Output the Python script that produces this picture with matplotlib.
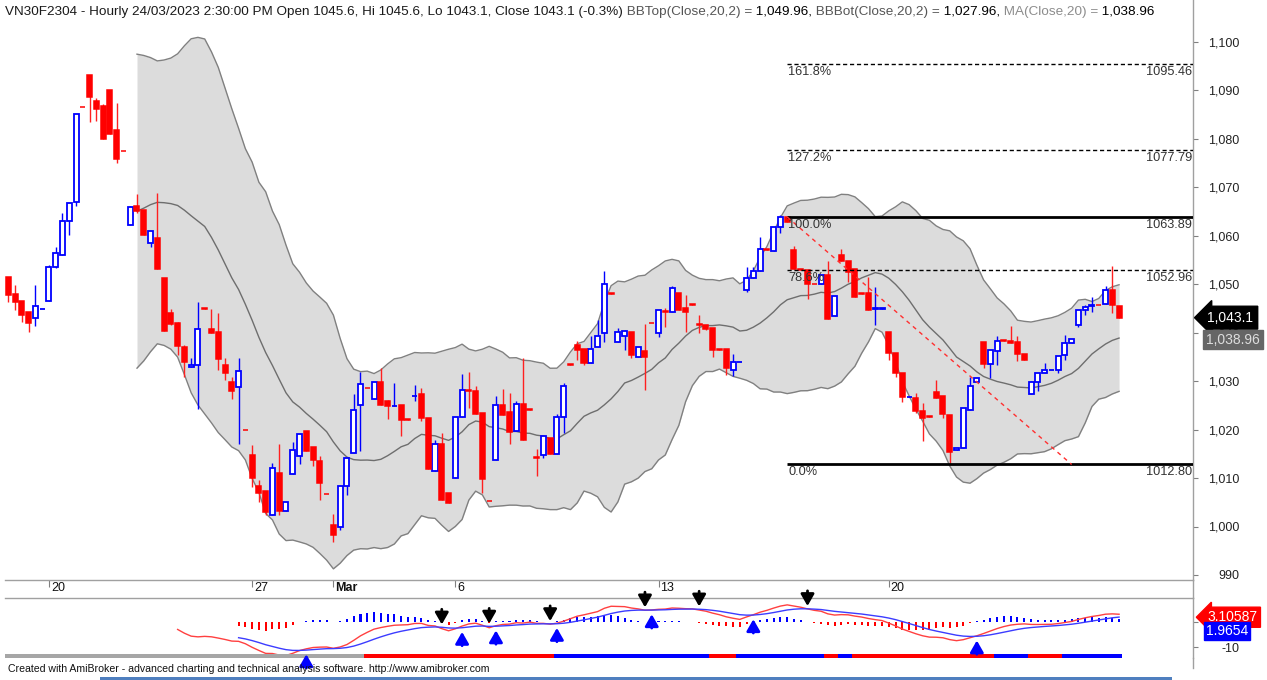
import numpy as np
import pandas as pd
import matplotlib
matplotlib.use('Agg')
import matplotlib.pyplot as plt
from matplotlib.patches import Rectangle
from matplotlib.lines import Line2D
from matplotlib.transforms import blended_transform_factory

plt.rcParams['font.family'] = ['Liberation Sans', 'DejaVu Sans']

# ---------------- data (hourly OHLC, VN30F2304) ----------------
opens = [1051.4, 1048.0, 1046.6, 1044.2, 1043.1, 1044.8, 1046.6, 1053.5, 1056.1, 1063.0,
         1066.9, 1086.6, 1093.2, 1087.9, 1086.7, 1090.0, 1081.9, 1077.6, 1062.3, 1066.2,
         1065.3, 1058.6, 1059.6, 1051.2, 1044.1, 1042.1, 1037.1, 1032.9, 1033.4, 1045.0,
         1040.7, 1040.2, 1033.3, 1029.9, 1028.7, 1020.0, 1014.8, 1008.4, 1007.4, 1002.4,
         1011.1, 1003.2, 1010.9, 1014.6, 1019.7, 1016.5, 1013.5, 1006.8, 1000.3, 1000.0,
         1008.4, 1015.1, 1025.1, 1028.6, 1026.3, 1029.9, 1025.8, 1024.8, 1025.1, 1022.1,
         1026.9, 1027.4, 1022.4, 1011.5, 1017.0, 1007.0, 1010.0, 1022.7, 1028.1, 1028.0,
         1023.4, 1005.3, 1013.7, 1025.1, 1023.6, 1019.8, 1025.3, 1024.2, 1014.3, 1014.8,
         1018.2, 1015.0, 1022.5, 1033.5, 1037.5, 1036.6, 1033.8, 1037.0, 1040.0, 1048.1,
         1038.0, 1039.3, 1040.1, 1034.9, 1036.3, 1042.0, 1039.9, 1044.4, 1044.2, 1048.2,
         1045.1, 1045.9, 1041.7, 1041.6, 1041.0, 1036.6, 1036.6, 1032.4, 1033.9, 1048.8,
         1051.2, 1052.8, 1057.2, 1056.9, 1061.9, 1063.8, 1057.1, 1053.1, 1052.9, 1050.1,
         1050.0, 1051.9, 1043.4, 1056.0, 1054.9, 1053.1, 1048.1, 1048.1, 1044.9, 1044.9,
         1040.1, 1035.9, 1031.7, 1026.7, 1026.6, 1023.8, 1022.8, 1027.8, 1026.9, 1023.0,
         1015.8, 1016.3, 1024.0, 1029.9, 1038.0, 1033.5, 1036.3, 1038.4, 1038.3, 1038.1,
         1035.7, 1027.3, 1029.9, 1031.6, 1032.2, 1032.3, 1035.4, 1037.9, 1041.6, 1044.7,
         1045.6, 1045.8, 1045.9, 1048.8, 1045.6]
highs = [1051.5, 1049.9, 1046.6, 1044.2, 1049.9, 1044.9, 1054.0, 1057.6, 1064.7, 1066.7,
         1085.1, 1086.6, 1093.2, 1088.4, 1087.2, 1090.0, 1087.5, 1077.6, 1066.2, 1068.6,
         1065.3, 1060.9, 1068.8, 1051.2, 1044.8, 1042.3, 1037.5, 1034.7, 1046.4, 1045.0,
         1044.8, 1044.0, 1034.7, 1030.8, 1034.7, 1020.0, 1016.8, 1009.7, 1007.4, 1013.2,
         1017.1, 1005.1, 1017.5, 1019.0, 1019.7, 1016.5, 1014.6, 1006.8, 1002.6, 1008.4,
         1014.1, 1027.4, 1031.8, 1028.6, 1029.9, 1032.7, 1026.1, 1029.7, 1025.1, 1022.1,
         1029.2, 1028.5, 1022.4, 1017.9, 1019.2, 1007.0, 1022.7, 1031.5, 1031.8, 1029.0,
         1023.4, 1005.3, 1027.0, 1028.3, 1027.5, 1025.8, 1034.7, 1024.2, 1016.0, 1018.6,
         1018.2, 1023.2, 1029.6, 1033.5, 1038.2, 1036.6, 1039.4, 1042.6, 1052.8, 1048.1,
         1040.9, 1040.6, 1040.1, 1037.1, 1041.8, 1042.0, 1044.7, 1045.0, 1049.6, 1048.2,
         1047.8, 1045.9, 1043.6, 1041.6, 1041.0, 1036.6, 1036.6, 1035.7, 1034.0, 1053.5,
         1053.6, 1059.7, 1057.2, 1061.9, 1064.3, 1063.89, 1057.8, 1053.1, 1052.9, 1050.1,
         1051.9, 1054.8, 1047.6, 1057.2, 1054.9, 1053.1, 1048.1, 1051.5, 1049.5, 1045.0,
         1040.1, 1035.9, 1031.7, 1026.8, 1027.5, 1025.5, 1022.8, 1030.2, 1026.9, 1023.0,
         1016.3, 1024.4, 1030.9, 1030.6, 1038.0, 1036.4, 1039.3, 1038.4, 1041.4, 1039.3,
         1035.7, 1030.0, 1031.7, 1033.7, 1032.3, 1035.2, 1039.5, 1038.8, 1044.7, 1045.7,
         1047.3, 1045.8, 1049.6, 1053.7, 1045.6]
lows = [1046.4, 1044.7, 1042.3, 1040.2, 1041.3, 1044.8, 1046.6, 1053.3, 1056.0, 1060.2,
        1066.2, 1086.5, 1083.4, 1083.6, 1079.9, 1081.0, 1075.0, 1077.5, 1062.3, 1064.8,
        1060.2, 1057.6, 1053.2, 1040.4, 1041.6, 1035.5, 1030.8, 1032.9, 1024.2, 1044.9,
        1040.0, 1032.3, 1030.2, 1026.3, 1017.1, 1019.9, 1008.2, 1005.1, 1002.4, 1002.4,
        1002.4, 1003.2, 1010.9, 1012.9, 1015.5, 1012.4, 1005.4, 1006.7, 996.7, 999.3,
        1006.4, 1015.1, 1015.6, 1028.5, 1026.3, 1025.0, 1022.1, 1024.8, 1018.7, 1022.0,
        1025.8, 1021.7, 1011.9, 1011.5, 1005.5, 1004.8, 1010.0, 1022.7, 1024.4, 1023.2,
        1007.0, 1005.2, 1013.7, 1023.0, 1017.1, 1019.8, 1017.9, 1024.1, 1010.4, 1014.1,
        1015.0, 1015.0, 1019.4, 1033.4, 1034.4, 1033.4, 1033.8, 1037.0, 1038.0, 1048.0,
        1038.0, 1036.5, 1034.7, 1034.9, 1028.2, 1041.9, 1039.2, 1041.2, 1044.2, 1044.7,
        1040.2, 1045.8, 1040.0, 1040.5, 1035.0, 1036.5, 1031.3, 1031.0, 1033.9, 1048.3,
        1051.2, 1052.8, 1057.1, 1056.9, 1060.5, 1062.9, 1053.1, 1053.0, 1046.9, 1050.0,
        1050.0, 1042.9, 1043.4, 1054.9, 1050.5, 1047.4, 1048.0, 1044.7, 1041.6, 1044.9,
        1034.3, 1030.8, 1025.7, 1026.7, 1023.5, 1017.7, 1022.7, 1026.6, 1022.3, 1012.8,
        1015.8, 1016.3, 1024.0, 1029.9, 1032.8, 1030.6, 1033.3, 1038.3, 1037.8, 1034.2,
        1034.3, 1027.3, 1028.0, 1031.6, 1032.2, 1031.6, 1034.3, 1037.9, 1041.2, 1043.6,
        1044.3, 1045.7, 1045.9, 1044.0, 1043.1]
closes = [1047.8, 1046.4, 1043.7, 1041.9, 1045.6, 1044.9, 1053.5, 1056.4, 1063.0, 1066.7,
          1085.1, 1086.5, 1088.7, 1086.1, 1079.9, 1081.0, 1075.9, 1077.5, 1065.9, 1065.2,
          1060.2, 1060.9, 1053.2, 1040.4, 1041.8, 1037.3, 1034.0, 1033.3, 1040.7, 1044.9,
          1040.0, 1034.6, 1031.6, 1028.0, 1032.0, 1019.9, 1010.0, 1007.0, 1002.9, 1012.0,
          1003.1, 1005.1, 1015.7, 1019.0, 1015.5, 1013.7, 1008.9, 1006.7, 998.3, 1008.4,
          1014.1, 1024.1, 1029.4, 1028.5, 1029.9, 1025.0, 1024.8, 1024.9, 1022.0, 1022.0,
          1027.0, 1022.4, 1011.9, 1017.0, 1005.5, 1004.8, 1022.7, 1028.2, 1028.0, 1023.2,
          1009.8, 1005.2, 1025.1, 1023.0, 1019.6, 1025.3, 1017.9, 1024.1, 1014.2, 1018.6,
          1015.0, 1022.5, 1029.0, 1033.4, 1036.4, 1033.8, 1036.6, 1039.3, 1050.1, 1048.0,
          1040.1, 1040.4, 1035.4, 1037.1, 1034.9, 1041.9, 1044.7, 1044.3, 1049.3, 1044.7,
          1044.3, 1045.8, 1041.6, 1040.7, 1036.4, 1036.5, 1032.8, 1034.0, 1034.0, 1051.2,
          1052.8, 1057.2, 1057.1, 1061.9, 1063.8, 1062.9, 1053.1, 1053.0, 1050.0, 1050.0,
          1051.9, 1042.9, 1047.6, 1054.9, 1052.6, 1047.4, 1048.0, 1044.7, 1045.0, 1045.0,
          1035.9, 1031.7, 1026.8, 1026.8, 1023.8, 1022.3, 1022.7, 1026.6, 1023.3, 1015.4,
          1016.3, 1024.4, 1029.0, 1030.6, 1033.5, 1036.4, 1038.3, 1038.3, 1037.8, 1035.6,
          1034.3, 1029.9, 1031.7, 1032.3, 1032.3, 1035.2, 1037.9, 1038.8, 1044.7, 1045.4,
          1045.7, 1045.7, 1048.8, 1045.7, 1043.1]

date_tick_idx = [6, 36, 48, 66, 96, 130]
date_tick_labels = ['20', '27', 'Mar', '6', '13', '20']
price_ticks = [990, 1000, 1010, 1020, 1030, 1040, 1050, 1060, 1070, 1080, 1090, 1100]

fib_start_bar = 115
fib_high = 1063.89
fib_low = 1012.80
fib_ratios = [0.0, 0.786, 1.0, 1.272, 1.618]
fib_names = ['0.0%', '78.6%', '100.0%', '127.2%', '161.8%']
fib_solid = [True, False, True, False, False]

trend_bars = [115, 157]
trend_prices = [1063.89, 1012.80]

sell_bars = [64, 71, 80, 94, 102, 118]
buy_bars = [44, 67, 72, 81, 95, 110, 143]

ribbon_colors = ['#a6a6a6', 'red', 'blue', 'red', 'blue', 'red', 'blue', 'red', 'blue', 'red', 'blue']
ribbon_start = [0, 53, 81, 104, 108, 121, 123, 125, 146, 151, 156]
ribbon_end = [52, 80, 103, 107, 120, 122, 124, 145, 150, 155, 164]

header_parts = [
    ('VN30F2304 - Hourly 24/03/2023 2:30:00 PM Open 1045.6, Hi 1045.6, Lo 1043.1, Close 1043.1 (-0.3%)', '#1a1a1a'),
    (' BBTop(Close,20,2) =', '#555555'), (' 1,049.96,', '#000000'),
    (' BBBot(Close,20,2) =', '#555555'), (' 1,027.96,', '#000000'),
    (' MA(Close,20) =', '#8c8c8c'), (' 1,038.96', '#000000'),
]
last_close_label = '1,043.1'
ma_label = '1,038.96'
macd_label = '3.10587'
signal_label = '1.9654'

# ---------------- derived series ----------------
O = np.array(opens); H = np.array(highs); L = np.array(lows); C = np.array(closes)
n = len(C)
x = np.arange(n)
cs = pd.Series(C)
ma = cs.rolling(20).mean()
sd = cs.rolling(20).std(ddof=0)
bb_top = ma + 2 * sd
bb_bot = ma - 2 * sd

ema12 = cs.ewm(span=12, adjust=False).mean()
ema26 = cs.ewm(span=26, adjust=False).mean()
macd = ema12 - ema26
macd[:25] = np.nan
sig = macd.ewm(span=9, adjust=False).mean()
sig[:34] = np.nan
hist = macd - sig

# ---------------- figure / layout ----------------
W, Hpx = 1267, 680
fig = plt.figure(figsize=(W / 100, Hpx / 100), dpi=100)
fig.patch.set_facecolor('white')

def fx(px):
    return px / W

def fy(py):
    return 1 - py / Hpx

x_left_px, x_right_px = 5, 1193
ax = fig.add_axes([fx(x_left_px), fy(580), fx(x_right_px - x_left_px), 580 / Hpx])
ax2 = fig.add_axes([fx(x_left_px), fy(658), fx(x_right_px - x_left_px), 60 / Hpx], sharex=ax)

px_per_bar = 6.773
x0 = 8.3
xlim = ((x_left_px - x0) / px_per_bar, (x_right_px - x0) / px_per_bar)
ax.set_xlim(*xlim)

ppu = 4.845
ax.set_ylim(1100 - (580 - 42) / ppu, 1100 + 42 / ppu)
ax2.set_ylim(-14.4, 9.6)

for a in (ax, ax2):
    a.set_facecolor('white')
    for s in a.spines.values():
        s.set_color('#a0a0a0')
        s.set_linewidth(1)
    a.spines['left'].set_visible(False)
ax.spines['top'].set_visible(False)
ax2.spines['bottom'].set_visible(False)

# ---------------- Bollinger bands ----------------
ax.fill_between(x, bb_bot, bb_top, color='#dcdcdc', lw=0, zorder=1)
ax.plot(x, bb_top, color='#808080', lw=1, zorder=2)
ax.plot(x, bb_bot, color='#808080', lw=1, zorder=2)
ax.plot(x, ma, color='#6e6e6e', lw=1, zorder=2)

# ---------------- candles ----------------
up = C > O
dn = ~up
bw = 0.74
ax.vlines(x[up], L[up], H[up], color='#0000ff', lw=1, zorder=3)
ax.vlines(x[dn], L[dn], H[dn], color='#ff2020', lw=1, zorder=3)
bottoms = np.minimum(O, C)
heights = np.abs(C - O)
ax.bar(x[up], heights[up], bw, bottom=bottoms[up], facecolor='white',
       edgecolor='#0000ff', lw=1.3, zorder=4)
ax.bar(x[dn], heights[dn], bw, bottom=bottoms[dn], facecolor='#ff0000',
       edgecolor='#ff0000', lw=1.1, zorder=4)

# ---------------- Fibonacci levels ----------------
blend = blended_transform_factory(ax.transAxes, ax.transData)
for r, name, solid in zip(fib_ratios, fib_names, fib_solid):
    lvl = fib_low + r * (fib_high - fib_low)
    if solid:
        ax.hlines(lvl, fib_start_bar, xlim[1], color='black', lw=2, zorder=5)
    else:
        ax.hlines(lvl, fib_start_bar, xlim[1], color='black', lw=1,
                  linestyles=(0, (3, 2)), zorder=5)
    ax.annotate(name, xy=(fib_start_bar, lvl), xytext=(1, -2), textcoords='offset pixels',
                ha='left', va='top', fontsize=9.2, color='#333333', zorder=6)
    ax.annotate('%.2f' % lvl, xy=(0.999, lvl), xycoords=blend, xytext=(0, -2),
                textcoords='offset pixels', ha='right', va='top', fontsize=9.2,
                color='#333333', zorder=6)

ax.plot(trend_bars, trend_prices, color='#ff3030', lw=1, linestyle=(0, (3, 3)), zorder=5)

# ---------------- axes ticks ----------------
ax.yaxis.tick_right()
ax.set_yticks(price_ticks)
ax.set_yticklabels(['{:,}'.format(v) for v in price_ticks])
ax.tick_params(axis='y', direction='out', length=3.6, width=0.8, color='#808080',
               pad=30, labelsize=9, labelcolor='#222222')
for lbl in ax.get_yticklabels():
    lbl.set_horizontalalignment('right')

ax.set_xticks(date_tick_idx)
ax.tick_params(axis='x', direction='out', length=5, width=0.8, color='#808080',
               labelbottom=False)
xblend = blended_transform_factory(ax.transData, ax.transAxes)
for i, lab in zip(date_tick_idx, date_tick_labels):
    ax.annotate(lab, xy=(i, 0), xycoords=xblend, xytext=(2, -2), textcoords='offset pixels',
                ha='left', va='top', fontsize=9, color='#111111',
                fontweight='bold' if lab == 'Mar' else 'normal', annotation_clip=False)

ax2.yaxis.tick_right()
ax2.set_yticks([0, -10])
ax2.set_yticklabels(['', '-10'])
ax2.tick_params(axis='y', direction='out', length=3.6, width=0.8, color='#808080',
                pad=30, labelsize=9, labelcolor='#222222')
for lbl in ax2.get_yticklabels():
    lbl.set_horizontalalignment('right')
ax2.tick_params(axis='x', bottom=False, labelbottom=False)

# ---------------- right-side value tags ----------------
ax.text(1.012, C[-1], last_close_label, transform=blend, ha='left', va='center',
        fontsize=10, color='white', zorder=10, clip_on=False,
        bbox=dict(boxstyle='larrow,pad=0.32', fc='black', ec='black'))
ax.text(1.011, ma.iloc[-1] - 0.3, ma_label, transform=blend, ha='left', va='center',
        fontsize=10, color='#dddddd', zorder=10, clip_on=False,
        bbox=dict(boxstyle='square,pad=0.2', fc='#666666', ec='#666666'))

# ---------------- lower indicator ----------------
hist_col = np.where(hist >= 0, '#0000ff', '#ff0000')
ax2.bar(x, hist, 0.3, color=hist_col, zorder=2)
ax2.plot(x, macd, color='#ff4040', lw=1, zorder=3)
ax2.plot(x, sig, color='#3c3cff', lw=1, zorder=3)

rblend = blended_transform_factory(ax2.transData, ax2.transAxes)
for col, s, e in zip(ribbon_colors, ribbon_start, ribbon_end):
    ax2.add_patch(Rectangle((s - 0.5, 0.0), e - s + 1, 0.075, transform=rblend,
                            facecolor=col, edgecolor='none', zorder=4))

for i in sell_bars:
    top = np.nanmax([macd[i], sig[i]])
    ax2.annotate('', xy=(i, top), xytext=(0, 18), textcoords='offset pixels',
                 arrowprops=dict(arrowstyle='-|>,head_length=0.7,head_width=0.4',
                                 color='black', lw=2, shrinkA=0, shrinkB=2),
                 annotation_clip=False, zorder=6)
for i in buy_bars:
    bot = np.nanmin([macd[i], sig[i]])
    ax2.annotate('', xy=(i, bot), xytext=(0, -18), textcoords='offset pixels',
                 arrowprops=dict(arrowstyle='-|>,head_length=0.7,head_width=0.4',
                                 color='#0000ff', lw=2, shrinkA=0, shrinkB=3),
                 annotation_clip=False, zorder=6)

blend2 = blended_transform_factory(ax2.transAxes, ax2.transData)
ax2.annotate(macd_label, xy=(1.012, float(macd_label)), xycoords=blend2,
             xytext=(0, -3), textcoords='offset pixels', ha='left',
             va='center', fontsize=10, color='white', zorder=10, annotation_clip=False,
             bbox=dict(boxstyle='larrow,pad=0.22', fc='#ff0000', ec='#ff0000'))
ax2.annotate(signal_label, xy=(1.011, float(signal_label)), xycoords=blend2,
             xytext=(0, -14), textcoords='offset pixels', ha='left', va='center',
             fontsize=10, color='white', zorder=10, annotation_clip=False,
             bbox=dict(boxstyle='square,pad=0.15', fc='#0000ff', ec='#0000ff'))

# ---------------- decorations ----------------
fig.add_artist(Line2D([fx(x_right_px), fx(x_right_px)], [fy(580), fy(598)],
                      color='#a0a0a0', lw=1, transform=fig.transFigure))
fig.add_artist(Line2D([fx(x_right_px), fx(x_right_px)], [fy(658), fy(668)],
                      color='#a0a0a0', lw=1, transform=fig.transFigure))

fig.text(fx(8), fy(669), 'Created with AmiBroker - advanced charting and technical analysis '
         'software. http://www.amibroker.com', fontsize=7.6, color='#111111', va='center')
fig.add_artist(Rectangle((fx(100), 0), fx(1172 - 100), 3.5 / Hpx, transform=fig.transFigure,
                         facecolor='#4f7fbf', edgecolor='none'))

renderer = fig.canvas.get_renderer()
cur = 5
for txt, col in header_parts:
    t = fig.text(fx(cur), fy(12), txt, fontsize=9.7, color=col, va='center', ha='left')
    cur += t.get_window_extent(renderer=renderer).width

fig.savefig('out.png', dpi=100, facecolor='white')
